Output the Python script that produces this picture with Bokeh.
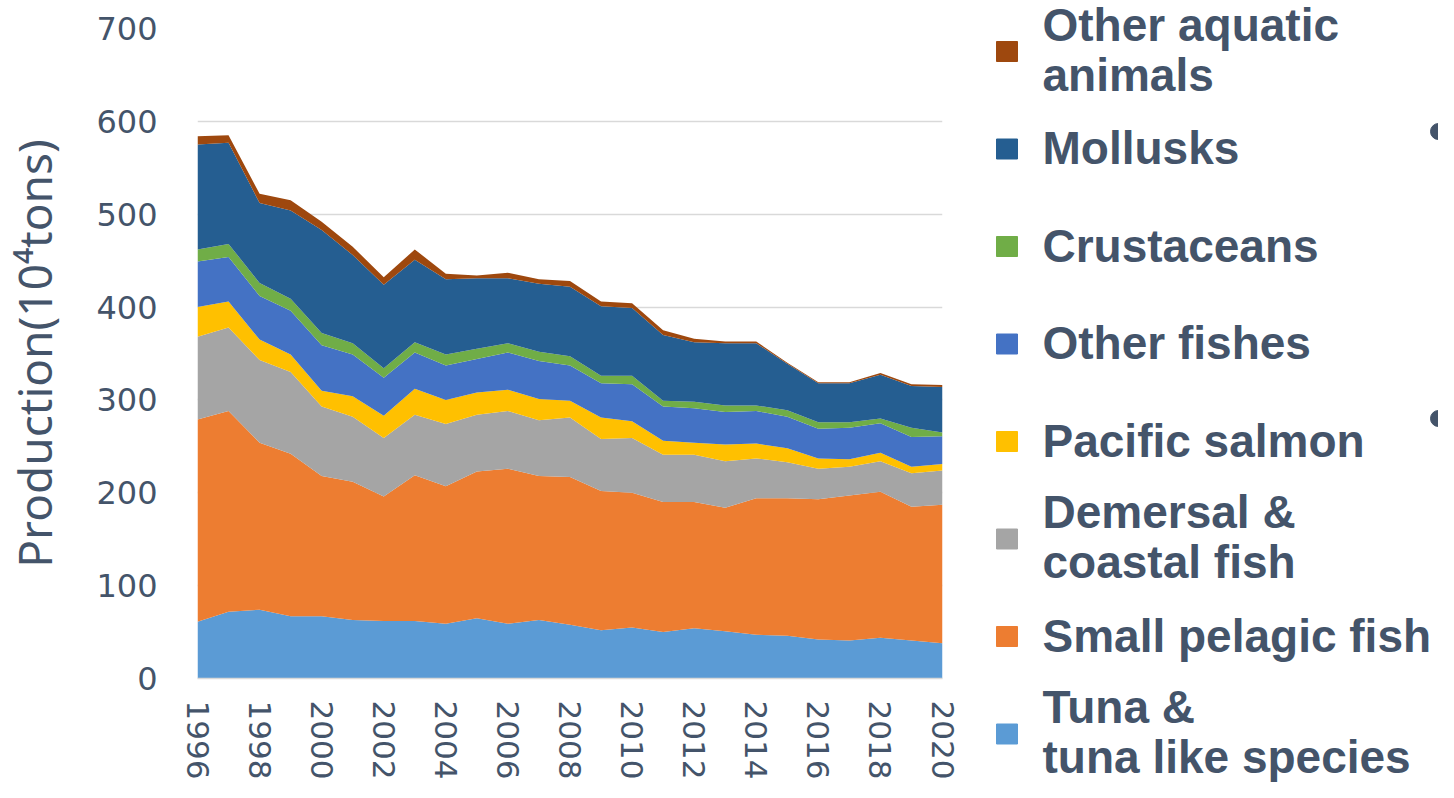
from bokeh.plotting import figure
from bokeh.models import ColumnDataSource, Range1d, FixedTicker
from bokeh.layouts import row, column
from bokeh.core.properties import value
from bokeh.embed import file_html
from bokeh.resources import INLINE

years = list(range(1996, 2021))
tuna = [61, 72, 74, 67, 67, 63, 62, 62, 59, 65, 59, 63, 58, 52, 55, 50, 54, 51, 47, 46, 42, 41, 44, 41, 38]
small_pelagic = [218, 216, 180, 175, 151, 149, 134, 157, 148, 158, 167, 155, 159, 150, 145, 140, 136, 133, 147, 148, 151, 156, 157, 144, 149]
demersal = [89, 90, 89, 88, 75, 70, 63, 65, 67, 61, 62, 60, 64, 56, 59, 51, 51, 50, 43, 39, 33, 31, 33, 36, 37]
salmon = [32, 28, 22, 19, 17, 22, 24, 28, 26, 24, 23, 23, 18, 23, 18, 15, 13, 18, 16, 15, 11, 8, 9, 7, 7]
other_fishes = [49, 48, 47, 47, 49, 45, 41, 39, 37, 36, 40, 41, 38, 37, 40, 37, 37, 35, 35, 34, 32, 34, 32, 32, 30]
crustaceans = [13, 14, 14, 13, 13, 12, 10, 11, 12, 11, 10, 10, 10, 8, 9, 6, 7, 7, 6, 7, 7, 6, 5, 10, 4]
mollusks = [113, 109, 86, 95, 111, 95, 90, 89, 81, 76, 70, 73, 75, 75, 73, 71, 64, 67, 67, 50, 42, 42, 47, 45, 49]
other_aquatic = [9, 8, 10, 11, 9, 9, 8, 11, 6, 3, 6, 5, 6, 5, 5, 5, 4, 2, 2, 1, 1, 1, 2, 2, 2]

series_keys = ["tuna", "small_pelagic", "demersal", "salmon", "other_fishes", "crustaceans", "mollusks", "other_aquatic"]
series_colors = ["#5B9BD5", "#ED7D31", "#A5A5A5", "#FFC000", "#4472C4", "#70AD47", "#255E91", "#9E480E"]
legend_lines = [
    ["Tuna &", "tuna like species"],
    ["Small pelagic fish"],
    ["Demersal &", "coastal fish"],
    ["Pacific salmon"],
    ["Other fishes"],
    ["Crustaceans"],
    ["Mollusks"],
    ["Other aquatic", " animals"],
]
x_ticks = list(range(1996, 2021, 2))
y_ticks = [0, 100, 200, 300, 400, 500, 600, 700]

TEXT = "#44546A"
H = 782
PW = 975
LW = 1438 - PW

source = ColumnDataSource(dict(
    year=years, tuna=tuna, small_pelagic=small_pelagic, demersal=demersal,
    salmon=salmon, other_fishes=other_fishes, crustaceans=crustaceans,
    mollusks=mollusks, other_aquatic=other_aquatic,
))

p = figure(width=PW, height=H, x_range=Range1d(1996, 2020), y_range=Range1d(0, 700),
           output_backend="svg", toolbar_location=None,
           min_border_left=195, min_border_right=33, min_border_top=28, min_border_bottom=100)
p.varea_stack(stackers=series_keys, x="year", color=series_colors, source=source)

p.outline_line_color = None
p.xgrid.grid_line_color = None
p.ygrid.grid_line_color = "#D9D9D9"
p.ygrid.grid_line_width = 1.5
p.ygrid.ticker = FixedTicker(ticks=y_ticks)

p.xaxis.ticker = FixedTicker(ticks=x_ticks)
p.xaxis.major_label_orientation = "vertical"
p.xaxis.axis_line_color = "#D9D9D9"
p.xaxis.axis_line_width = 1.5
p.xaxis.major_tick_line_color = None
p.xaxis.minor_tick_line_color = None
p.xaxis.major_label_standoff = 16
p.xaxis.major_label_text_font = "DejaVu Sans"
p.xaxis.major_label_text_font_size = "31px"
p.xaxis.major_label_text_color = TEXT

p.yaxis.ticker = FixedTicker(ticks=y_ticks)
p.yaxis.axis_line_color = None
p.yaxis.major_tick_line_color = None
p.yaxis.minor_tick_line_color = None
p.yaxis.major_label_standoff = 34
p.yaxis.major_label_text_font = "DejaVu Sans"
p.yaxis.major_label_text_font_size = "32px"
p.yaxis.major_label_text_color = TEXT
p.yaxis.axis_label = "Production(10\u2074tons)"
p.yaxis.axis_label_text_font = "Noto Sans"
p.yaxis.axis_label_text_font_size = "46px"
p.yaxis.axis_label_text_font_style = "normal"
p.yaxis.axis_label_text_color = TEXT
p.yaxis.axis_label_standoff = 28

# legend panel (coordinates in pixels of this panel)
lg = figure(width=LW, height=H, x_range=Range1d(0, LW), y_range=Range1d(H, 0),
            output_backend="svg", toolbar_location=None, min_border=0)
lg.axis.visible = False
lg.grid.visible = False
lg.outline_line_color = None

n = len(series_keys)
centers = [51 + 97.5 * (n - 1 - i) for i in range(n)]
lg.rect(x=[31.5] * n, y=centers, width=21, height=20, color=series_colors)

tx, ty, tt = [], [], []
for c, lines in zip(centers, legend_lines):
    if len(lines) == 1:
        tx.append(67); ty.append(c - 1); tt.append(lines[0])
    else:
        tx += [67, 67]; ty += [c - 27, c + 23]; tt += lines
lg.text(x=tx, y=ty, text=tt, text_font=value("Liberation Sans"), text_font_style="bold",
        text_font_size="46px", text_color=TEXT, text_baseline="alphabetic", text_align="left")

lg.scatter(x=[LW, LW], y=[131, 418], size=16, color=TEXT)

layout = row(p, column(lg))
open("out.html", "w").write(file_html(layout, INLINE))
